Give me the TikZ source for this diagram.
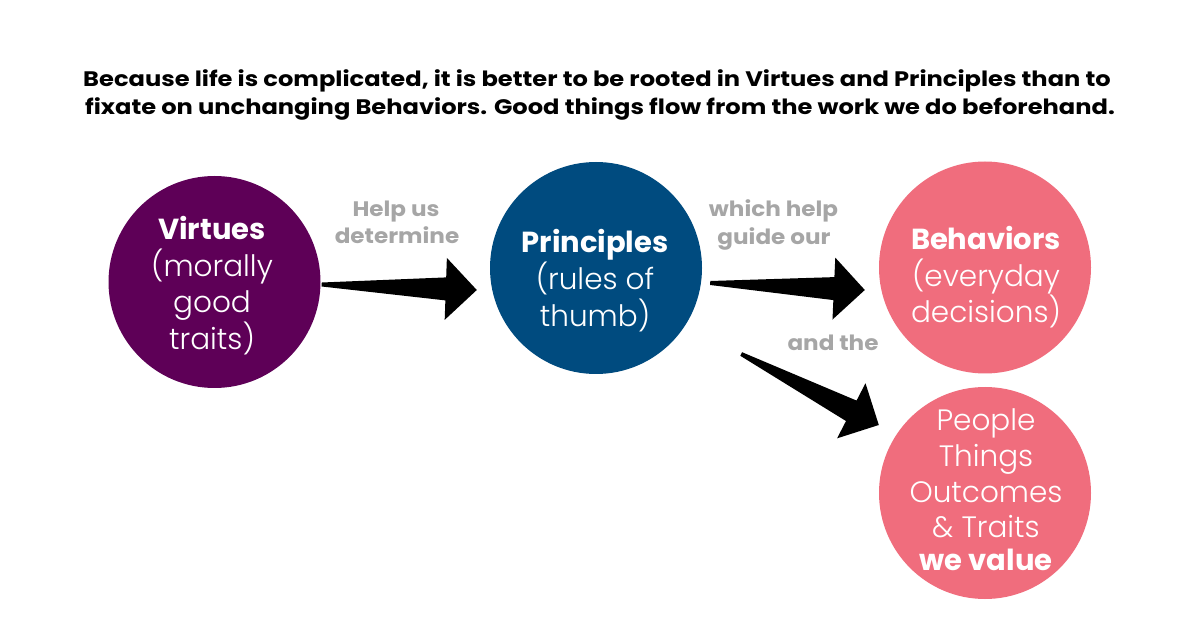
\documentclass[tikz,border=0pt]{standalone}
\usepackage{fontspec}
\setmainfont{Poppins}
\newfontfamily\lightfont{Poppins Light}
\newfontfamily\ttlfont[FakeStretch=1.15]{Poppins}
\newfontfamily\labfont[FakeStretch=1.1]{Poppins}
\usetikzlibrary{calc}
\definecolor{virt}{RGB}{94,0,87}
\definecolor{princ}{RGB}{0,75,127}
\definecolor{behav}{RGB}{240,109,125}
\definecolor{lbl}{RGB}{166,166,166}
\newcommand\fatarrow[2]{%
  \fill[black] ($(#1)!2pt!90:(#2)$)
    -- ($(#1)!0.8!(#2)!11.5pt!90:(#2)$)
    -- ($(#1)!0.8!(#2)!31pt!90:(#2)$)
    -- (#2)
    -- ($(#1)!0.8!(#2)!31pt!-90:(#2)$)
    -- ($(#1)!0.8!(#2)!11.5pt!-90:(#2)$)
    -- ($(#1)!2pt!-90:(#2)$) -- cycle;}
\begin{document}
\begin{tikzpicture}[x=1pt,y=-1pt,
  disc/.style={circle, minimum size=212pt, inner sep=0pt, fill=#1},
  inb/.style={text=white, anchor=base, inner sep=0pt, font=\bfseries\fontsize{29}{36}\selectfont},
  inl/.style={text=white, anchor=base, inner sep=0pt, font=\lightfont\fontsize{29.5}{36}\selectfont},
  lab/.style={text=lbl, anchor=base, inner sep=0pt, font=\labfont\bfseries\fontsize{21}{28}\selectfont},
  ttl/.style={text=black, anchor=base, inner sep=0pt, font=\ttlfont\bfseries\fontsize{21}{28}\selectfont},
  ]
\useasboundingbox (0,0) rectangle (1200,636);
\fill[white] (0,0) rectangle (1200,636);
% title
\node[ttl] (t1) at (597,86.7) {Because life is complicated, it is better to be rooted in Virtues and Principles than to};
\node[ttl] (t2) at (600,115) {fixate on unchanging Behaviors. Good things flow from the work we do beforehand.};
% circles
\node[disc=virt] (v) at (214.5,282) {};
\node[disc=princ] (p) at (596,268) {};
\node[disc=behav] (b) at (985,267.5) {};
\node[disc=behav] (q) at (985,493) {};
% circle texts
\node[inb] (v1) at (212,240) {Virtues};
\node[inl] (v2) at (212,277) {(morally};
\node[inl] (v3) at (212,313) {good};
\node[inl] (v4) at (212,350) {traits)};
\node[inb] (p1) at (595,253) {Principles};
\node[inl] (p2) at (595,290) {(rules of};
\node[inl] (p3) at (595,327) {thumb)};
\node[inb] (b1) at (986,250) {Behaviors};
\node[inl] (b2) at (986,287) {(everyday};
\node[inl] (b3) at (986,323) {decisions)};
\node[inl] (q1) at (986,430) {People};
\node[inl] (q2) at (986,466) {Things};
\node[inl] (q3) at (986,502) {Outcomes};
\node[inl] (q4) at (986,537) {\& Traits};
\node[inb] (q5) at (986,570) {we value};
% labels
\node[lab] (l1) at (396,216.7) {Help us};
\node[lab] (l2) at (397,244) {determine};
\node[lab] (l3) at (773.5,217) {which help};
\node[lab] (l4) at (774,245) {guide our};
\node[lab] (l5) at (833,351) {and the};
% arrows
\coordinate (a1s) at ($(v.east)+(1,2.5)$);
\coordinate (a1e) at ($(p.west)+(-13,22)$);
\coordinate (a2s) at ($(p.east)+(8,15)$);
\coordinate (a2e) at ($(b.west)+(-14,22.5)$);
\coordinate (a3s) at ($(p.east)+(39,86)$);
\coordinate (a3e) at ($(q.west)+(0,-68)$);
\fatarrow{a1s}{a1e}
\fatarrow{a2s}{a2e}
\fatarrow{a3s}{a3e}
\end{tikzpicture}
\end{document}
